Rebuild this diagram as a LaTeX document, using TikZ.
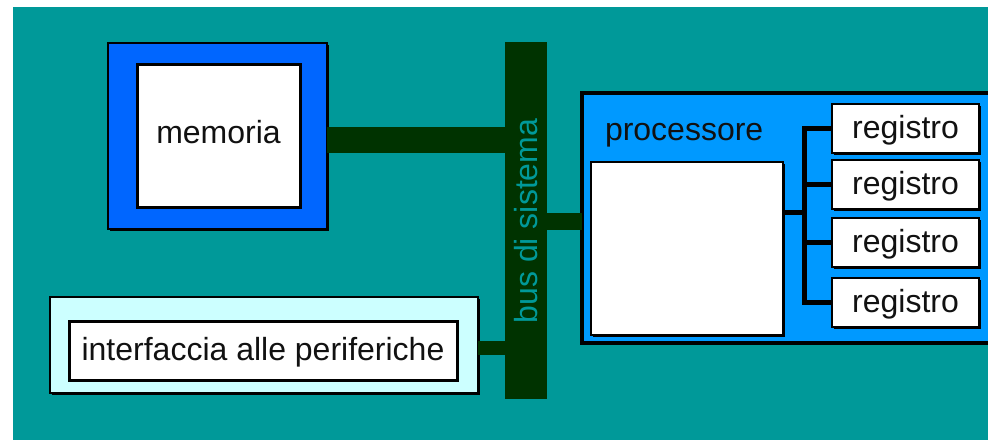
\documentclass[tikz,border=0pt]{standalone}
\usepackage{fontspec}
\setmainfont{Liberation Sans}
\usetikzlibrary{shadows,calc}
\definecolor{teal0}{HTML}{009999}
\definecolor{memblue}{HTML}{0066FF}
\definecolor{cpublue}{HTML}{0099FF}
\definecolor{iocyan}{HTML}{CCFFFF}
\definecolor{busgreen}{HTML}{003300}
\definecolor{ink}{HTML}{111111}
\begin{document}
\begin{tikzpicture}[x=1pt,y=-1pt,
  every node/.style={inner sep=0pt, outer sep=0pt, font=\fontsize{32}{38}\selectfont, text=ink},
  boxbase/.style={draw=black, anchor=north west},
  shadowed/.style={drop shadow={shadow xshift=1.5pt, shadow yshift=-1.5pt, fill=black, opacity=1}},
  whitebox/.style={boxbase, fill=white, line width=2pt, shadowed, text height=23pt, text depth=4pt},
  regbox/.style={whitebox, minimum width=147pt, minimum height=49pt},
  busbar/.style={draw=busgreen, line cap=butt},
  bracket/.style={draw=black, line width=5pt, line cap=butt, line join=miter}
]
\useasboundingbox (0,0) rectangle (988,440);
\fill[white] (0,0) rectangle (988,440);
\clip (0,0) rectangle (988,440);
\fill[teal0] (13,7) rectangle (988,440);

% memoria
\node[boxbase, fill=memblue, line width=2pt, shadowed, minimum width=219pt, minimum height=186pt] (memo) at (108,43) {};
\node[whitebox, line width=3pt, minimum width=163pt, minimum height=143pt, text height=22pt, text depth=7pt] (memin) at (137,64) {memoria};

% bus
\node[anchor=north west, fill=busgreen, minimum width=42pt, minimum height=357pt] (bus) at (505,42) {};
\node[rotate=90, anchor=base, text=teal0] (buslbl) at (537,221) {bus di sistema};

% processore
\node[boxbase, fill=cpublue, line width=4pt, minimum width=418pt, minimum height=250pt] (proc) at (582,93) {};
\node[anchor=base west] (proclbl) at (605,140) {processore};
\node[boxbase, fill=white, line width=1.5pt, shadowed, minimum width=192pt, minimum height=173pt] (cpu) at (591,162) {};

\node[regbox] (r1) at (832,104) {registro};
\node[regbox] (r2) at (832,160) {registro};
\node[regbox] (r3) at (832,218) {registro};
\node[regbox] (r4) at (832,278) {registro};

% interfaccia
\node[boxbase, fill=iocyan, line width=2pt, shadowed, minimum width=428pt, minimum height=96pt] (io) at (50,297) {};
\node[whitebox, line width=3pt, minimum width=388pt, minimum height=59pt] (ioin) at (69,321) {interfaccia alle periferiche};

% connectors to bus
\coordinate (ym) at (0,140);
\coordinate (yp) at (0,221.5);
\coordinate (yi) at (0,348);
\draw[busbar, line width=26pt] (memo.east |- ym) -- (bus.west |- ym);
\draw[busbar, line width=17pt] (bus.east |- yp) -- (proc.west |- yp);
\draw[busbar, line width=14pt] (io.east |- yi) -- (bus.west |- yi);

% register bracket
\coordinate (spine) at (804,212);
\draw[bracket] (cpu.east |- spine) -- (spine);
\draw[bracket] (r1.west) -- (spine |- r1.west) -- (spine |- r4.west) -- (r4.west);
\draw[bracket] (spine |- r2.west) -- (r2.west);
\draw[bracket] (spine |- r3.west) -- (r3.west);
\end{tikzpicture}
\end{document}
